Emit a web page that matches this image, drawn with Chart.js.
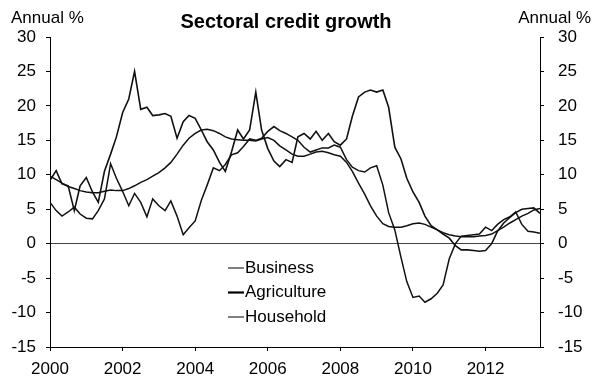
<!DOCTYPE html>
<html>
<head>
<meta charset="utf-8">
<script src="https://cdn.jsdelivr.net/npm/chart.js@4/dist/chart.umd.min.js"></script>
<style>
  html, body { margin: 0; padding: 0; background: #fff; }
  #wrap { width: 592px; height: 379px; }
</style>
</head>
<body>
<div id="wrap"><canvas id="myChart" width="592" height="379"></canvas></div>
<script>
const titleText = 'Sectoral credit growth';
const unitText = 'Annual %';
const xTicks = [2000, 2002, 2004, 2006, 2008, 2010, 2012];
const yTicks = [-15, -10, -5, 0, 5, 10, 15, 20, 25, 30];

// bimonthly observations
const dates = [
  2000.00, 2000.17, 2000.33, 2000.50, 2000.67, 2000.83,
  2001.00, 2001.17, 2001.33, 2001.50, 2001.67, 2001.83,
  2002.00, 2002.17, 2002.33, 2002.50, 2002.67, 2002.83,
  2003.00, 2003.17, 2003.33, 2003.50, 2003.67, 2003.83,
  2004.00, 2004.17, 2004.33, 2004.50, 2004.67, 2004.83,
  2005.00, 2005.17, 2005.33, 2005.50, 2005.67, 2005.83,
  2006.00, 2006.17, 2006.33, 2006.50, 2006.67, 2006.83,
  2007.00, 2007.17, 2007.33, 2007.50, 2007.67, 2007.83,
  2008.00, 2008.17, 2008.33, 2008.50, 2008.67, 2008.83,
  2009.00, 2009.17, 2009.33, 2009.50, 2009.67, 2009.83,
  2010.00, 2010.17, 2010.33, 2010.50, 2010.67, 2010.83,
  2011.00, 2011.17, 2011.33, 2011.50, 2011.67, 2011.83,
  2012.00, 2012.17, 2012.33, 2012.50, 2012.67, 2012.83,
  2013.00, 2013.17, 2013.33, 2013.50
];

const business = [
  6.0, 4.8, 4.0, 4.6, 5.3, 4.3,
  3.7, 3.6, 4.8, 6.5, 11.6, 9.5,
  7.6, 5.5, 7.3, 6.0, 3.9, 6.5,
  5.5, 4.8, 6.2, 4.0, 1.3, 2.3,
  3.3, 6.3, 8.5, 11.0, 10.6, 11.5,
  12.9, 13.2, 14.1, 15.2, 15.0, 15.3,
  16.3, 17.0, 16.4, 16.0, 15.5, 15.0,
  14.0, 13.3, 13.6, 13.9, 13.9, 14.3,
  14.0, 12.2, 11.1, 10.6, 10.4, 11.0,
  11.3, 8.5, 4.5, 2.0, -2.0, -5.5,
  -7.8, -7.6, -8.5, -8.0, -7.2, -6.0,
  -2.2, 0.0, 1.1, 1.2, 1.3, 1.4,
  2.4, 1.9, 2.8, 3.5, 3.9, 4.6,
  2.8, 1.8, 1.7, 1.5
];

const agriculture = [
  9.2, 10.6, 8.7, 8.4, 4.8, 8.4,
  9.6, 7.5, 6.0, 10.5, 13.0, 15.5,
  19.0, 21.0, 25.0, 19.5, 19.8, 18.6,
  18.7, 18.9, 18.5, 15.3, 17.7, 18.6,
  18.2, 16.5, 14.8, 13.6, 11.8, 10.5,
  13.3, 16.5, 15.2, 16.5, 22.0, 16.5,
  13.8, 12.0, 11.2, 12.2, 11.8, 15.5,
  16.0, 15.2, 16.3, 15.0, 16.0, 14.8,
  14.3, 15.2, 18.5, 21.3, 22.0, 22.3,
  22.0, 22.3, 19.8, 14.0, 12.3, 9.5,
  7.5, 6.0, 4.0, 2.6, 2.0, 1.4,
  0.8, -0.3, -0.9, -0.9, -1.0, -1.1,
  -1.0, 0.0, 1.8, 3.0, 3.8, 4.5,
  5.0, 5.1, 5.2, 4.4
];

const household = [
  9.8, 9.3, 8.8, 8.3, 8.0, 7.7,
  7.5, 7.4, 7.4, 7.6, 7.8, 7.7,
  7.7, 8.0, 8.4, 8.9, 9.3, 9.8,
  10.3, 11.0, 11.8, 13.0, 14.3, 15.3,
  16.0, 16.5, 16.6, 16.4, 16.0, 15.5,
  15.2, 15.1, 15.0, 15.0, 14.9, 15.2,
  15.4, 15.0, 14.2, 13.6, 13.0, 12.7,
  12.7, 13.0, 13.3, 13.4, 13.2, 12.9,
  12.7, 11.8, 10.5, 8.8, 7.2, 5.5,
  4.0, 2.9, 2.5, 2.4, 2.4, 2.6,
  2.9, 3.0, 2.8, 2.4, 2.0, 1.6,
  1.3, 1.1, 1.0, 1.0, 1.0, 1.1,
  1.2, 1.4, 1.9, 2.4, 3.0, 3.5,
  4.0, 4.4, 4.9, 5.1
];

const font = '"Liberation Sans", Arial, sans-serif';

function points(values) {
  return values.map((v, i) => ({ x: dates[i], y: v }));
}

// title, unit labels and the in-plot legend
const textPlugin = {
  id: 'texts',
  afterDraw(chart) {
    const ctx = chart.ctx;
    ctx.save();
    ctx.fillStyle = '#000';
    ctx.textBaseline = 'alphabetic';
    ctx.font = 'bold 20px ' + font;
    ctx.textAlign = 'center';
    ctx.fillText(titleText, 286, 28);
    ctx.font = '17px ' + font;
    ctx.textAlign = 'left';
    ctx.fillText(unitText, 11, 23);
    ctx.textAlign = 'right';
    ctx.fillText(unitText, 591, 23);

    ctx.textAlign = 'left';
    ctx.textBaseline = 'middle';
    chart.data.datasets.forEach((ds, i) => {
      const y = 268 + i * 24.5;
      ctx.strokeStyle = '#000';
      ctx.lineWidth = ds.legendWidth;
      ctx.beginPath();
      ctx.moveTo(228, y);
      ctx.lineTo(244, y);
      ctx.stroke();
      ctx.fillText(ds.label, 245, y);
    });
    ctx.restore();
  }
};

const ctx = document.getElementById('myChart').getContext('2d');
const myChart = new Chart(ctx, {
  type: 'line',
  data: {
    datasets: [
      { label: 'Business', data: points(business), borderColor: '#111', borderWidth: 1.5, legendWidth: 1 },
      { label: 'Agriculture', data: points(agriculture), borderColor: '#111', borderWidth: 1.6, legendWidth: 2.2 },
      { label: 'Household', data: points(household), borderColor: '#111', borderWidth: 1.5, legendWidth: 1 }
    ]
  },
  options: {
    responsive: false,
    animation: false,
    layout: { padding: { top: 37, left: 0, right: 0, bottom: 0 } },
    elements: { point: { radius: 0 }, line: { tension: 0 } },
    plugins: { legend: { display: false }, tooltip: { enabled: false } },
    scales: {
      x: {
        type: 'linear',
        min: 2000,
        max: 2013.5,
        afterBuildTicks: s => { s.ticks = xTicks.map(v => ({ value: v })); },
        afterFit: s => { s.height = 32; },
        grid: { drawOnChartArea: false, tickLength: 4, color: '#000' },
        border: { display: true, color: '#000', width: 1 },
        ticks: {
          color: '#000',
          font: { family: font, size: 17 },
          padding: 8,
          maxRotation: 0,
          callback: v => String(v)
        }
      },
      y: {
        position: 'left',
        min: -15,
        max: 30,
        afterBuildTicks: s => { s.ticks = yTicks.map(v => ({ value: v })); },
        afterFit: s => { s.width = 50; },
        grid: {
          drawOnChartArea: true,
          tickLength: 4,
          color: c => (c.tick && c.tick.value === 0 ? '#444' : 'rgba(0,0,0,0)'),
          tickColor: '#000'
        },
        border: { display: true, color: '#000', width: 1 },
        ticks: { color: '#000', font: { family: font, size: 17 }, padding: 10 }
      },
      y2: {
        position: 'right',
        min: -15,
        max: 30,
        afterBuildTicks: s => { s.ticks = yTicks.map(v => ({ value: v })); },
        afterFit: s => { s.width = 52; },
        grid: { drawOnChartArea: false, tickLength: 4, color: '#000' },
        border: { display: true, color: '#000', width: 1 },
        ticks: { color: '#000', font: { family: font, size: 17 }, padding: 14 }
      }
    }
  },
  plugins: [textPlugin]
});
</script>
</body>
</html>
